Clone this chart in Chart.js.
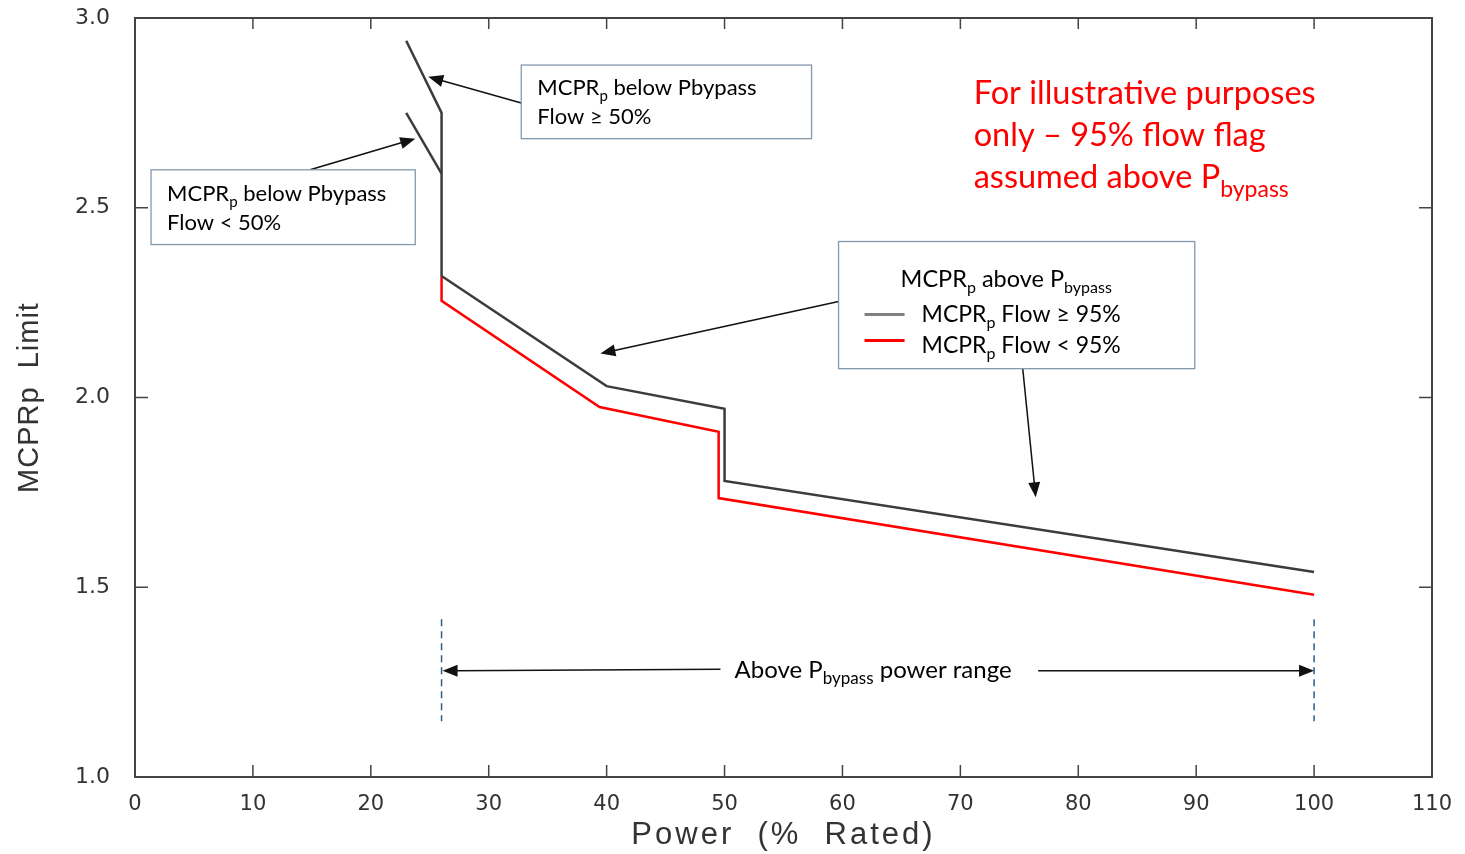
<!DOCTYPE html>
<html>
<head>
<meta charset="utf-8">
<title>MCPRp Limit vs Power</title>
<script src="https://cdn.jsdelivr.net/npm/chart.js@4.4.1/dist/chart.umd.min.js"></script>
<style>
  html, body { margin: 0; padding: 0; background: #fff; }
  #wrap { position: relative; width: 1465px; height: 854px; }
</style>
</head>
<body>
<div id="wrap"><canvas id="mcpr-chart"></canvas></div>
<script>
// values: power (% rated) vs MCPRp limit
const belowHighFlowX = [23, 26, 26];
const belowHighFlowY = [2.94, 2.75, 2.32];
const belowLowFlowX = [23, 26];
const belowLowFlowY = [2.75, 2.59];
const aboveHighFlowX = [26, 40, 50, 50, 100];
const aboveHighFlowY = [2.32, 2.03, 1.97, 1.78, 1.54];
const aboveLowFlowX = [26, 26, 39.4, 49.5, 49.5, 100];
const aboveLowFlowY = [2.32, 2.255, 1.975, 1.91, 1.735, 1.48];

const xTicks = [0, 10, 20, 30, 40, 50, 60, 70, 80, 90, 100, 110];
const yTicks = [1.0, 1.5, 2.0, 2.5, 3.0];

const pBypass = 26;
const pMax = 100;

const NOTE_FONT = 'Lato, "Open Sans", sans-serif';
const AXIS_FONT = '"DejaVu Sans", sans-serif';
const TITLE_FONT = '"Liberation Sans", Arial, sans-serif';

function toPoints(xs, ys) {
  return xs.map((x, i) => ({ x: x, y: ys[i] }));
}

// text with "p" / "bypass" subscripts
function drawRich(ctx, parts, x, y, size, color, align) {
  const subSize = Math.round(size * 0.7);
  const widths = parts.map(([t, sub]) => {
    ctx.font = (sub ? subSize : size) + 'px ' + NOTE_FONT;
    return ctx.measureText(t).width;
  });
  const total = widths.reduce((a, b) => a + b, 0);
  let cx = align === 'center' ? x - total / 2 : x;
  ctx.fillStyle = color;
  ctx.textAlign = 'left';
  ctx.textBaseline = 'alphabetic';
  parts.forEach(([t, sub], i) => {
    ctx.font = (sub ? subSize : size) + 'px ' + NOTE_FONT;
    ctx.fillText(t, cx, sub ? y + size * 0.28 : y);
    cx += widths[i];
  });
}

function arrow(ctx, x1, y1, x2, y2) {
  const ang = Math.atan2(y2 - y1, x2 - x1);
  const len = 15, half = 6;
  ctx.strokeStyle = '#111';
  ctx.fillStyle = '#111';
  ctx.lineWidth = 1.5;
  ctx.beginPath();
  ctx.moveTo(x1, y1);
  ctx.lineTo(x2 - Math.cos(ang) * len * 0.8, y2 - Math.sin(ang) * len * 0.8);
  ctx.stroke();
  ctx.beginPath();
  ctx.moveTo(x2, y2);
  ctx.lineTo(x2 - Math.cos(ang) * len + Math.sin(ang) * half, y2 - Math.sin(ang) * len - Math.cos(ang) * half);
  ctx.lineTo(x2 - Math.cos(ang) * len - Math.sin(ang) * half, y2 - Math.sin(ang) * len + Math.cos(ang) * half);
  ctx.closePath();
  ctx.fill();
}

function box(ctx, l, t, r, b) {
  ctx.fillStyle = '#fff';
  ctx.fillRect(l, t, r - l, b - t);
  ctx.strokeStyle = '#8399ad';
  ctx.lineWidth = 1.3;
  ctx.strokeRect(l, t, r - l, b - t);
}

const frameAndNotes = {
  id: 'frameAndNotes',
  afterDatasetsDraw(chart) {
    const { ctx, chartArea: a, scales: { x, y } } = chart;
    const px = v => x.getPixelForValue(v);
    const py = v => y.getPixelForValue(v);
    ctx.save();

    // plot frame with inward ticks on all sides
    ctx.strokeStyle = '#444';
    ctx.lineWidth = 2;
    ctx.strokeRect(a.left, a.top, a.width, a.height);
    ctx.lineWidth = 1.5;
    ctx.beginPath();
    xTicks.slice(1, -1).forEach(v => {
      ctx.moveTo(px(v), a.bottom); ctx.lineTo(px(v), a.bottom - 12);
      ctx.moveTo(px(v), a.top); ctx.lineTo(px(v), a.top + 11);
    });
    yTicks.slice(1, -1).forEach(v => {
      ctx.moveTo(a.left, py(v)); ctx.lineTo(a.left + 13, py(v));
      ctx.moveTo(a.right, py(v)); ctx.lineTo(a.right - 13, py(v));
    });
    ctx.stroke();

    // axis titles, spaced out like the plotting package's font
    ctx.fillStyle = '#333';
    ctx.textAlign = 'center';
    ctx.textBaseline = 'middle';
    ctx.font = '31px ' + TITLE_FONT;
    ctx.letterSpacing = '3px';
    ctx.fillText('Power  (%  Rated)', (a.left + a.right) / 2, 835);
    ctx.save();
    ctx.translate(30, (a.top + a.bottom) / 2);
    ctx.rotate(-Math.PI / 2);
    ctx.font = '29px ' + TITLE_FONT;
    ctx.letterSpacing = '1px';
    ctx.fillText('MCPRp  Limit', 0, 0);
    ctx.restore();
    ctx.letterSpacing = '0px';

    // dashed markers for the above-Pbypass range
    ctx.strokeStyle = '#2a5d8c';
    ctx.lineWidth = 1.5;
    ctx.setLineDash([7, 5]);
    ctx.beginPath();
    [pBypass, pMax].forEach(v => {
      ctx.moveTo(px(v), py(1.416)); ctx.lineTo(px(v), py(1.147));
    });
    ctx.stroke();
    ctx.setLineDash([]);

    // range arrows and label
    arrow(ctx, px(49.65), py(1.284), px(pBypass) + 1, py(1.28));
    arrow(ctx, px(76.6), py(1.28), px(pMax), py(1.28));
    drawRich(ctx, [['Above P', false], ['bypass', true], [' power range', false]],
      px(62.6), py(1.28) + 7, 24, '#000', 'center');

    // box: below Pbypass, flow >= 50%
    arrow(ctx, px(32.76), py(2.776), px(24.87), py(2.845));
    box(ctx, px(32.76), py(2.876), px(57.38), py(2.682));
    drawRich(ctx, [['MCPR', false], ['p', true], [' below Pbypass', false]],
      px(32.76) + 16, py(2.876) + 30, 22, '#000');
    drawRich(ctx, [['Flow \u2265 50%', false]], px(32.76) + 16, py(2.876) + 59, 22, '#000');

    // box: below Pbypass, flow < 50%
    arrow(ctx, px(14.85), py(2.6), px(23.77), py(2.682));
    box(ctx, px(1.36), py(2.6), px(23.77), py(2.403));
    drawRich(ctx, [['MCPR', false], ['p', true], [' below Pbypass', false]],
      px(1.36) + 16, py(2.6) + 31, 22, '#000');
    drawRich(ctx, [['Flow < 50%', false]], px(1.36) + 16, py(2.6) + 60, 22, '#000');

    // legend box: above Pbypass
    arrow(ctx, px(59.67), py(2.253), px(39.47), py(2.116));
    arrow(ctx, px(75.29), py(2.076), px(76.39), py(1.737));
    const ll = px(59.67), lt = py(2.411);
    box(ctx, ll, lt, px(89.88), py(2.076));
    drawRich(ctx, [['MCPR', false], ['p', true], [' above P', false], ['bypass', true]],
      ll + 62, lt + 45, 23.5, '#000');
    ctx.lineWidth = 3;
    ctx.strokeStyle = '#7f7f7f';
    ctx.beginPath(); ctx.moveTo(ll + 26, lt + 73); ctx.lineTo(ll + 66, lt + 73); ctx.stroke();
    ctx.strokeStyle = '#ff0000';
    ctx.beginPath(); ctx.moveTo(ll + 26, lt + 99); ctx.lineTo(ll + 66, lt + 99); ctx.stroke();
    drawRich(ctx, [['MCPR', false], ['p', true], [' Flow \u2265 95%', false]], ll + 83, lt + 80, 23, '#000');
    drawRich(ctx, [['MCPR', false], ['p', true], [' Flow < 95%', false]], ll + 83, lt + 111, 23, '#000');

    // red disclaimer
    const rx = px(71.13);
    drawRich(ctx, [['For illustrative purposes', false]], rx, py(2.774), 32.5, '#ff0000');
    drawRich(ctx, [['only \u2013 95% flow flag', false]], rx, py(2.663), 32.5, '#ff0000');
    drawRich(ctx, [['assumed above P', false], ['bypass', true]], rx, py(2.553), 32.5, '#ff0000');

    ctx.restore();
  }
};

const ctx = document.getElementById('mcpr-chart').getContext('2d');

const config = {
  type: 'line',
  data: {
    datasets: [
      {
        label: 'MCPRp below Pbypass Flow \u2265 50%',
        data: toPoints(belowHighFlowX, belowHighFlowY),
        borderColor: '#3c3c3c',
        borderWidth: 2.5,
        pointRadius: 0,
        tension: 0,
      },
      {
        label: 'MCPRp below Pbypass Flow < 50%',
        data: toPoints(belowLowFlowX, belowLowFlowY),
        borderColor: '#3c3c3c',
        borderWidth: 2.5,
        pointRadius: 0,
        tension: 0,
      },
      {
        label: 'MCPRp Flow \u2265 95%',
        data: toPoints(aboveHighFlowX, aboveHighFlowY),
        borderColor: '#3c3c3c',
        borderWidth: 2.5,
        pointRadius: 0,
        tension: 0,
      },
      {
        label: 'MCPRp Flow < 95%',
        data: toPoints(aboveLowFlowX, aboveLowFlowY),
        borderColor: '#ff0000',
        borderWidth: 2.5,
        pointRadius: 0,
        tension: 0,
      },
    ],
  },
  options: {
    responsive: true,
    maintainAspectRatio: false,
    animation: false,
    layout: { padding: { top: 18, right: 33, left: 0, bottom: 0 } },
    plugins: {
      legend: { display: false },
      tooltip: { enabled: false },
    },
    scales: {
      x: {
        type: 'linear',
        min: 0,
        max: 110,
        grid: { display: false, drawTicks: false },
        border: { display: false },
        ticks: {
          stepSize: 10,
          padding: 15,
          color: '#333',
          font: { family: AXIS_FONT, size: 21 },
        },
        afterFit: s => { s.height = 77; s.paddingLeft = 0; s.paddingRight = 0; },
      },
      y: {
        min: 1,
        max: 3,
        grid: { display: false, drawTicks: false },
        border: { display: false },
        ticks: {
          stepSize: 0.5,
          padding: 25,
          color: '#333',
          font: { family: AXIS_FONT, size: 22 },
          callback: v => Number(v).toFixed(1),
        },
        afterFit: s => { s.width = 135; s.paddingTop = 0; s.paddingBottom = 0; },
      },
    },
  },
  plugins: [frameAndNotes],
};

new Chart(ctx, config);
</script>
</body>
</html>
